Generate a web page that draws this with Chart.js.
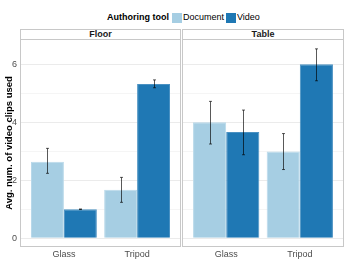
<!DOCTYPE html>
<html>
<head>
<meta charset="utf-8">
<script src="https://cdn.jsdelivr.net/npm/chart.js@4/dist/chart.umd.min.js"></script>
<style>
  body { margin: 0; background: #fff; font-family: "Liberation Sans", Arial, sans-serif; }
  #wrap { position: relative; width: 349px; height: 270px; overflow: hidden; }
  canvas { position: absolute; }
  .legend { position: absolute; top: 12px; left: 107px; font-size: 9px; color: #000; white-space: nowrap; line-height: 11px; }
  .legend b { margin-right: 3px; }
  .sw { display: inline-block; width: 10px; height: 10px; vertical-align: top; margin-top: 1px; margin-right: 1px; }
  .strip { position: absolute; top: 29px; height: 10px; border: 1px solid #c8c8c8; border-bottom: none; box-sizing: border-box;
           font-size: 9px; font-weight: bold; text-align: center; line-height: 9px; color: #1a1a1a; background: #fff; }
</style>
</head>
<body>
<div id="wrap">
  <div class="legend"><b>Authoring tool</b><span class="sw" style="background:#a6cee3"></span>Document<span class="sw" style="background:#1f78b4;margin-left:2px"></span>Video</div>
  <div class="strip" style="left:20px;width:161px">Floor</div>
  <div class="strip" style="left:182px;width:162px">Table</div>
  <canvas id="floorChart" width="181" height="231" style="left:0;top:39px"></canvas>
  <canvas id="tableChart" width="162" height="231" style="left:182px;top:39px"></canvas>
</div>
<script>
// Values
const categories = ['Glass', 'Tripod'];
const seriesNames = ['Document', 'Video'];
const yTicks = [0, 2, 4, 6];

const floorDocument = [2.64, 1.67];
const floorVideo = [1.0, 5.32];
const floorDocumentLow = [2.24, 1.24];
const floorDocumentHigh = [3.1, 2.1];
const floorVideoLow = [0.99, 5.19];
const floorVideoHigh = [1.01, 5.46];

const tableDocument = [4.0, 2.99];
const tableVideo = [3.66, 6.0];
const tableDocumentLow = [3.25, 2.37];
const tableDocumentHigh = [4.72, 3.61];
const tableVideoLow = [2.88, 5.43];
const tableVideoHigh = [4.42, 6.53];

const colors = ['#a6cee3', '#1f78b4'];
const borders = ['#b9d9ea', '#4a91c2'];

// error bars + panel border
const panelPlugin = {
    id: 'panel',
    afterDatasetsDraw(chart, args, opts) {
        const ctx = chart.ctx;
        const y = chart.scales.y;
        ctx.save();
        ctx.strokeStyle = 'rgba(0,0,0,0.65)';
        ctx.lineWidth = 1;
        opts.errors.forEach((err, d) => {
            const meta = chart.getDatasetMeta(d);
            meta.data.forEach((bar, i) => {
                const x = Math.round(bar.x) + 0.5;
                const y1 = y.getPixelForValue(err.low[i]);
                const y2 = y.getPixelForValue(err.high[i]);
                ctx.beginPath();
                ctx.moveTo(x, y1); ctx.lineTo(x, y2);
                ctx.moveTo(x - 1.5, y1); ctx.lineTo(x + 1.5, y1);
                ctx.moveTo(x - 1.5, y2); ctx.lineTo(x + 1.5, y2);
                ctx.stroke();
            });
        });
        const a = chart.chartArea;
        ctx.strokeStyle = '#c8c8c8';
        ctx.strokeRect(a.left + 0.5, a.top + 0.5, a.right - a.left - 1, a.bottom - a.top - 1);
        ctx.restore();
    }
};

function makeChart(id, doc, vid, errors, showAxis) {
    const ctx = document.getElementById(id).getContext('2d');
    const toPoints = arr => arr.map((v, i) => ({ x: i + 1, y: v }));
    return new Chart(ctx, {
        type: 'bar',
        data: {
            datasets: [{
                label: seriesNames[0],
                data: toPoints(doc),
                backgroundColor: colors[0],
                borderColor: borders[0],
                borderWidth: 1,
                categoryPercentage: 0.9,
                barPercentage: 1
            }, {
                label: seriesNames[1],
                data: toPoints(vid),
                backgroundColor: colors[1],
                borderColor: borders[1],
                borderWidth: 1,
                categoryPercentage: 0.9,
                barPercentage: 1
            }]
        },
        options: {
            responsive: false,
            animation: false,
            layout: { padding: 0 },
            plugins: {
                legend: { display: false },
                tooltip: { enabled: false },
                panel: { errors: errors }
            },
            scales: {
                x: {
                    type: 'linear',
                    min: 0.4,
                    max: 2.6,
                    offset: false,
                    grid: { display: false, drawTicks: false },
                    border: { display: false },
                    afterBuildTicks: s => { s.ticks = categories.map((c, i) => ({ value: i + 1 })); },
                    ticks: {
                        color: '#4d4d4d',
                        font: { family: 'Liberation Sans', size: 9 },
                        padding: 2,
                        maxRotation: 0,
                        callback: v => categories[v - 1]
                    },
                    afterFit: s => { s.height = 23; s.paddingLeft = 0; s.paddingRight = 0; }
                },
                y: {
                    min: -0.3,
                    max: 6.87,
                    border: { display: false },
                    grid: {
                        drawTicks: false,
                        color: c => (c.tick.value % 2 === 0 ? '#ebebeb' : '#f5f5f5'),
                        lineWidth: 1
                    },
                    afterBuildTicks: s => { s.ticks = [0, 1, 2, 3, 4, 5, 6].map(v => ({ value: v })); },
                    ticks: {
                        display: showAxis,
                        color: '#4d4d4d',
                        font: { family: 'Liberation Sans', size: 9 },
                        padding: 3,
                        callback: v => (yTicks.includes(v) ? v : '')
                    },
                    title: {
                        display: showAxis,
                        text: 'Avg. num. of video clips used',
                        color: '#000',
                        font: { family: 'Liberation Sans', size: 9.5, weight: 'bold' },
                        padding: { top: 4, bottom: 0 }
                    },
                    afterFit: s => {
                        s.width = showAxis ? 20 : 0;
                        s.paddingTop = 0;
                        s.paddingBottom = 0;
                    }
                }
            }
        },
        plugins: [panelPlugin]
    });
}

makeChart('floorChart', floorDocument, floorVideo, [
    { low: floorDocumentLow, high: floorDocumentHigh },
    { low: floorVideoLow, high: floorVideoHigh }
], true);

makeChart('tableChart', tableDocument, tableVideo, [
    { low: tableDocumentLow, high: tableDocumentHigh },
    { low: tableVideoLow, high: tableVideoHigh }
], false);
</script>
</body>
</html>
